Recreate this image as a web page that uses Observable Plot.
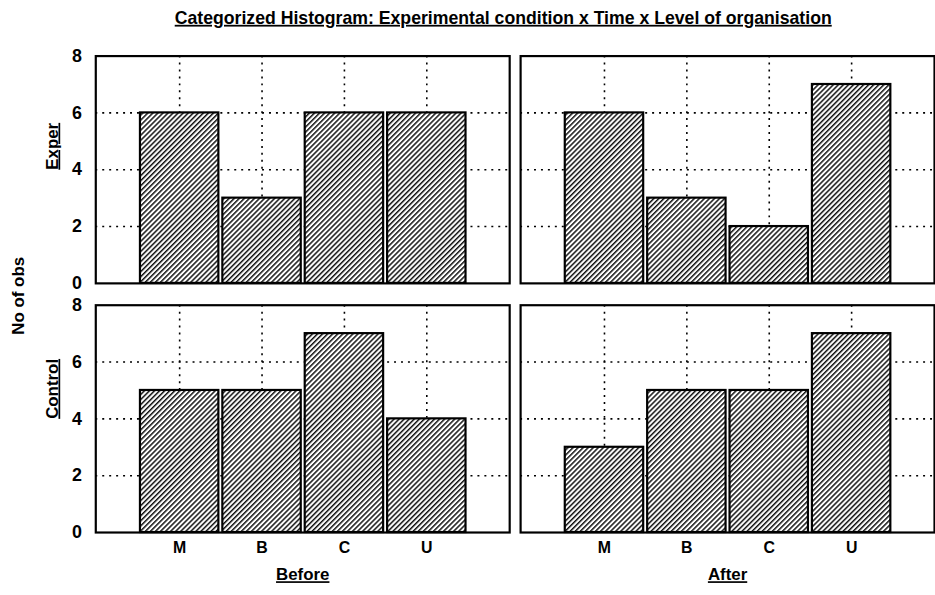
<!DOCTYPE html>
<html>
<head>
<meta charset="utf-8">
<script src="https://cdn.jsdelivr.net/npm/d3@7"></script>
<script src="https://cdn.jsdelivr.net/npm/@observablehq/plot@0.6"></script>
<style>
  html, body { margin: 0; padding: 0; background: #fff; overflow: hidden; }
  #wrap { width: 935px; height: 595px; overflow: hidden; position: relative; }
</style>
</head>
<body>
<div id="wrap"></div>
<script>
// ---- data ----
const levels = ["M", "B", "C", "U"];
const times = ["Before", "After"];
const conditions = ["Exper", "Control"];
const experBefore = [6, 3, 6, 6];
const experAfter = [6, 3, 2, 7];
const controlBefore = [5, 5, 7, 4];
const controlAfter = [3, 5, 5, 7];
const yTicks = [0, 2, 4, 6, 8];
const gridY = [2, 4, 6];
const titleText = "Categorized Histogram: Experimental condition x Time x Level of organisation";
const yLabel = "No of obs";

const series = [
  {cond: "Exper", time: "Before", values: experBefore},
  {cond: "Exper", time: "After", values: experAfter},
  {cond: "Control", time: "Before", values: controlBefore},
  {cond: "Control", time: "After", values: controlAfter}
];
const data = series.flatMap(s => s.values.map((v, i) => ({cond: s.cond, time: s.time, level: levels[i], count: v})));

const dots = "2,5";

const svg = Plot.plot({
  width: 942,
  height: 595,
  marginLeft: 95,
  marginRight: 0,
  marginTop: 55,
  marginBottom: 58,
  style: {fontFamily: "Liberation Sans, Arial, sans-serif", fontSize: "17px", fontWeight: "bold", color: "black", background: "white"},
  x: {domain: levels, paddingInner: 0.05, paddingOuter: 0.513, label: null},
  y: {domain: [0, 8], label: null},
  fx: {domain: times, padding: 0.02564, label: null},
  fy: {domain: conditions, padding: 0.0873, label: null, axis: null},
  marks: [
    Plot.ruleY(gridY, {stroke: "black", strokeWidth: 1.6, strokeDasharray: dots}),
    Plot.ruleX(levels, {x: d => d, stroke: "black", strokeWidth: 1.6, strokeDasharray: dots}),
    Plot.barY(data, {x: "level", y: "count", fx: "time", fy: "cond", fill: "url(#hatch)", stroke: "black", strokeWidth: 2.2}),
    Plot.frame({stroke: "black", strokeWidth: 2.2}),
    Plot.axisY({anchor: "left", ticks: yTicks, tickSize: 0, tickPadding: 14, label: null, fontSize: 18}),
    Plot.axisX({anchor: "bottom", tickSize: 0, tickPadding: 9, label: null, fontSize: 16}),
    Plot.axisFx({anchor: "bottom", tickSize: 0, tickPadding: 36, label: null, fontSize: 17}),
    Plot.text(conditions, {fy: d => d, fx: () => "Before", text: d => d, frameAnchor: "left", dx: -44, rotate: -90, fontSize: 17})
  ]
});

const s = d3.select(svg);
// hatch pattern
const defs = s.insert("defs", ":first-child");
const pat = defs.append("pattern")
  .attr("id", "hatch")
  .attr("patternUnits", "userSpaceOnUse")
  .attr("width", 3.6).attr("height", 10)
  .attr("patternTransform", "rotate(45)");
pat.append("rect").attr("width", 3.6).attr("height", 10).attr("fill", "white");
pat.append("rect").attr("width", 1.5).attr("height", 10).attr("fill", "#111");

// underline labels
s.selectAll("text").filter(function() {
  return ["Exper", "Control", "Before", "After"].includes(this.textContent);
}).style("text-decoration", "underline");

// title
s.append("text")
  .attr("x", 507).attr("y", 24)
  .attr("text-anchor", "middle")
  .style("font-size", "17.8px").style("font-weight", "bold")
  .style("text-decoration", "underline")
  .text(titleText);

// y label
s.append("text")
  .attr("transform", "translate(24,298) rotate(-90)")
  .attr("text-anchor", "middle")
  .style("font-size", "17px").style("font-weight", "bold")
  .text(yLabel);

document.getElementById("wrap").appendChild(svg);
</script>
</body>
</html>
